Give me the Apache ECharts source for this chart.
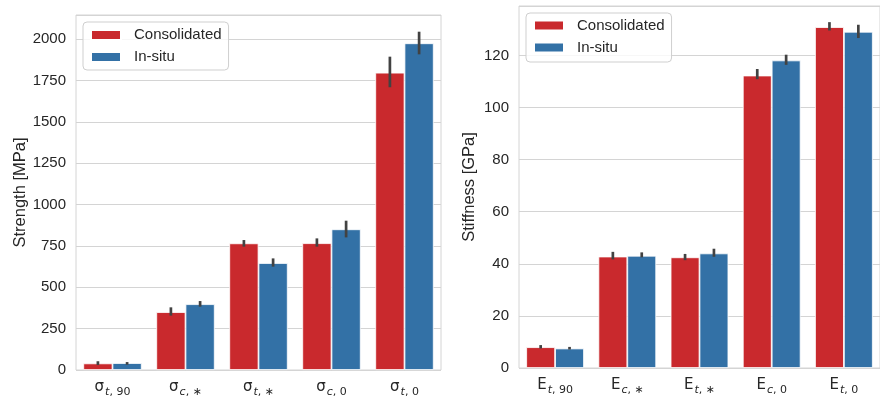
<!DOCTYPE html>
<html>
<head>
<meta charset="utf-8">
<script src="https://cdn.jsdelivr.net/npm/echarts@6/dist/echarts.min.js"></script>
<style>
html,body{margin:0;padding:0;background:#fff;}
#chart{width:880px;height:399px;}
</style>
</head>
<body>
<div id="chart"></div>
<script>
// ---- Data ----
const strengthCats = ['σ_{t,90}', 'σ_{c,∗}', 'σ_{t,∗}', 'σ_{c,0}', 'σ_{t,0}'];
const strengthConsolidated = [40, 350, 766, 767, 1798];
const strengthInsitu = [42, 398, 647, 851, 1976];
const strengthConsolidatedErr = [[30, 53], [329, 379], [746, 786], [746, 796], [1710, 1895]];
const strengthInsituErr = [[32, 48], [383, 417], [625, 675], [802, 903], [1909, 2046]];

const stiffnessCats = ['E_{t,90}', 'E_{c,∗}', 'E_{t,∗}', 'E_{c,0}', 'E_{t,0}'];
const stiffnessConsolidated = [8.0, 42.8, 42.5, 112.3, 130.9];
const stiffnessInsitu = [7.5, 43.1, 44.0, 118.1, 129.1];
const stiffnessConsolidatedErr = [[7.5, 8.8], [41.7, 44.6], [41.4, 43.8], [110.9, 114.8], [129.6, 132.8]];
const stiffnessInsituErr = [[7.1, 8.1], [42.5, 44.4], [42.7, 45.8], [116.4, 120.3], [126.7, 131.8]];

const seriesNames = ['Consolidated', 'In-situ'];

// ---- Styling ----
const RED = '#c9292d';
const BLUE = '#3371a6';
const TXT = '#262626';
const GRIDC = '#d4d4d4';
const FONT = '"Liberation Sans", Arial, sans-serif';
const MATH = '"DejaVu Sans", sans-serif';

function catLabel(v) {
  const m = v.match(/^(.)_\{(\w),(.+)\}$/);
  if (!m) return v;
  return '{s|' + m[1] + '}{i|' + m[2] + '}{r|, ' + m[3] + '}';
}
const richLab = {
  s: {fontFamily: MATH, fontSize: 15, color: TXT, lineHeight: 18, verticalAlign: 'top'},
  i: {fontFamily: MATH, fontStyle: 'italic', fontSize: 11, color: TXT, lineHeight: 12, padding: [9, 0, 0, 1], verticalAlign: 'bottom'},
  r: {fontFamily: MATH, fontSize: 11, color: TXT, lineHeight: 12, padding: [9, 0, 0, 0], verticalAlign: 'bottom'}
};

function errData(arr) {
  return arr.map((d, i) => [i, d[0], d[1]]);
}
function errSeries(arr, gridIdx, offset) {
  return {
    type: 'custom',
    xAxisIndex: gridIdx, yAxisIndex: gridIdx,
    z: 10,
    silent: true,
    data: errData(arr),
    encode: {x: 0, y: [1, 2]},
    renderItem: function (params, api) {
      const x = api.value(0);
      const p1 = api.coord([x, api.value(1)]);
      const p2 = api.coord([x, api.value(2)]);
      const band = api.size([1, 0])[0];
      const dx = offset * band;
      return {
        type: 'line',
        shape: {x1: p1[0] + dx, y1: p1[1], x2: p1[0] + dx, y2: p2[1]},
        style: {stroke: '#424242', lineWidth: 2.7, lineCap: 'butt'}
      };
    }
  };
}
function barSeries(name, data, gridIdx, color) {
  return {
    type: 'bar', name: name,
    xAxisIndex: gridIdx, yAxisIndex: gridIdx,
    data: data,
    barWidth: '40%', barGap: '0%',
    itemStyle: {color: color, borderColor: '#ffffff', borderWidth: 0.8},
    emphasis: {disabled: true}
  };
}
function legendCfg(idx, left, top, padding) {
  return {
    show: true,
    data: seriesNames,
    orient: 'vertical',
    left: left, top: top,
    padding: padding,
    itemWidth: 30, itemHeight: 10, itemGap: 5,
    icon: 'rect',
    borderColor: '#cfcfcf', borderWidth: 1, borderRadius: 4,
    backgroundColor: 'rgba(255,255,255,0.8)',
    textStyle: {fontFamily: FONT, fontSize: 15, color: TXT, lineHeight: 17, padding: [0, 0, 0, 8]},
    selectedMode: false
  };
}
const yLab = {fontFamily: FONT, fontSize: 15, color: TXT, margin: 10, showMaxLabel: false,
              formatter: function (v) { return String(v); }};

const chart = echarts.init(document.getElementById('chart'), null, {renderer: 'canvas'});
chart.setOption({
  animation: false,
  backgroundColor: '#ffffff',
  grid: [
    {left: 76, right: 439, top: 15, bottom: 29, show: true, borderColor: GRIDC, borderWidth: 1, backgroundColor: 'transparent'},
    {left: 519, right: -9, top: 6, bottom: 31, show: true, borderColor: GRIDC, borderWidth: 1, backgroundColor: 'transparent'}
  ],
  legend: [
    legendCfg(0, 83, 22, [4.5, 7, 4.5, 7]),
    legendCfg(1, 526, 13, [4, 7, 6, 7])
  ],
  xAxis: [
    {type: 'category', gridIndex: 0, data: strengthCats, axisLine: {show: false}, axisTick: {show: false},
     axisLabel: {formatter: catLabel, rich: richLab, margin: 10, interval: 0}},
    {type: 'category', gridIndex: 1, data: stiffnessCats, axisLine: {show: false}, axisTick: {show: false},
     axisLabel: {formatter: catLabel, rich: richLab, margin: 10, interval: 0}}
  ],
  yAxis: [
    {type: 'value', gridIndex: 0, min: 0, max: 2147, interval: 250,
     name: 'Strength [MPa]', nameLocation: 'middle', nameGap: 47,
     nameTextStyle: {fontFamily: FONT, fontSize: 16.5, color: TXT},
     axisLine: {show: false}, axisTick: {show: false},
     axisLabel: yLab,
     splitLine: {lineStyle: {color: GRIDC, width: 1}}},
    {type: 'value', gridIndex: 1, min: 0, max: 139, interval: 20,
     name: 'Stiffness [GPa]', nameLocation: 'middle', nameGap: 41,
     nameTextStyle: {fontFamily: FONT, fontSize: 16.5, color: TXT},
     axisLine: {show: false}, axisTick: {show: false},
     axisLabel: yLab,
     splitLine: {lineStyle: {color: GRIDC, width: 1}}}
  ],
  series: [
    barSeries('Consolidated', strengthConsolidated, 0, RED),
    barSeries('In-situ', strengthInsitu, 0, BLUE),
    barSeries('Consolidated', stiffnessConsolidated, 1, RED),
    barSeries('In-situ', stiffnessInsitu, 1, BLUE),
    errSeries(strengthConsolidatedErr, 0, -0.2),
    errSeries(strengthInsituErr, 0, 0.2),
    errSeries(stiffnessConsolidatedErr, 1, -0.2),
    errSeries(stiffnessInsituErr, 1, 0.2)
  ]
});
</script>
</body>
</html>
